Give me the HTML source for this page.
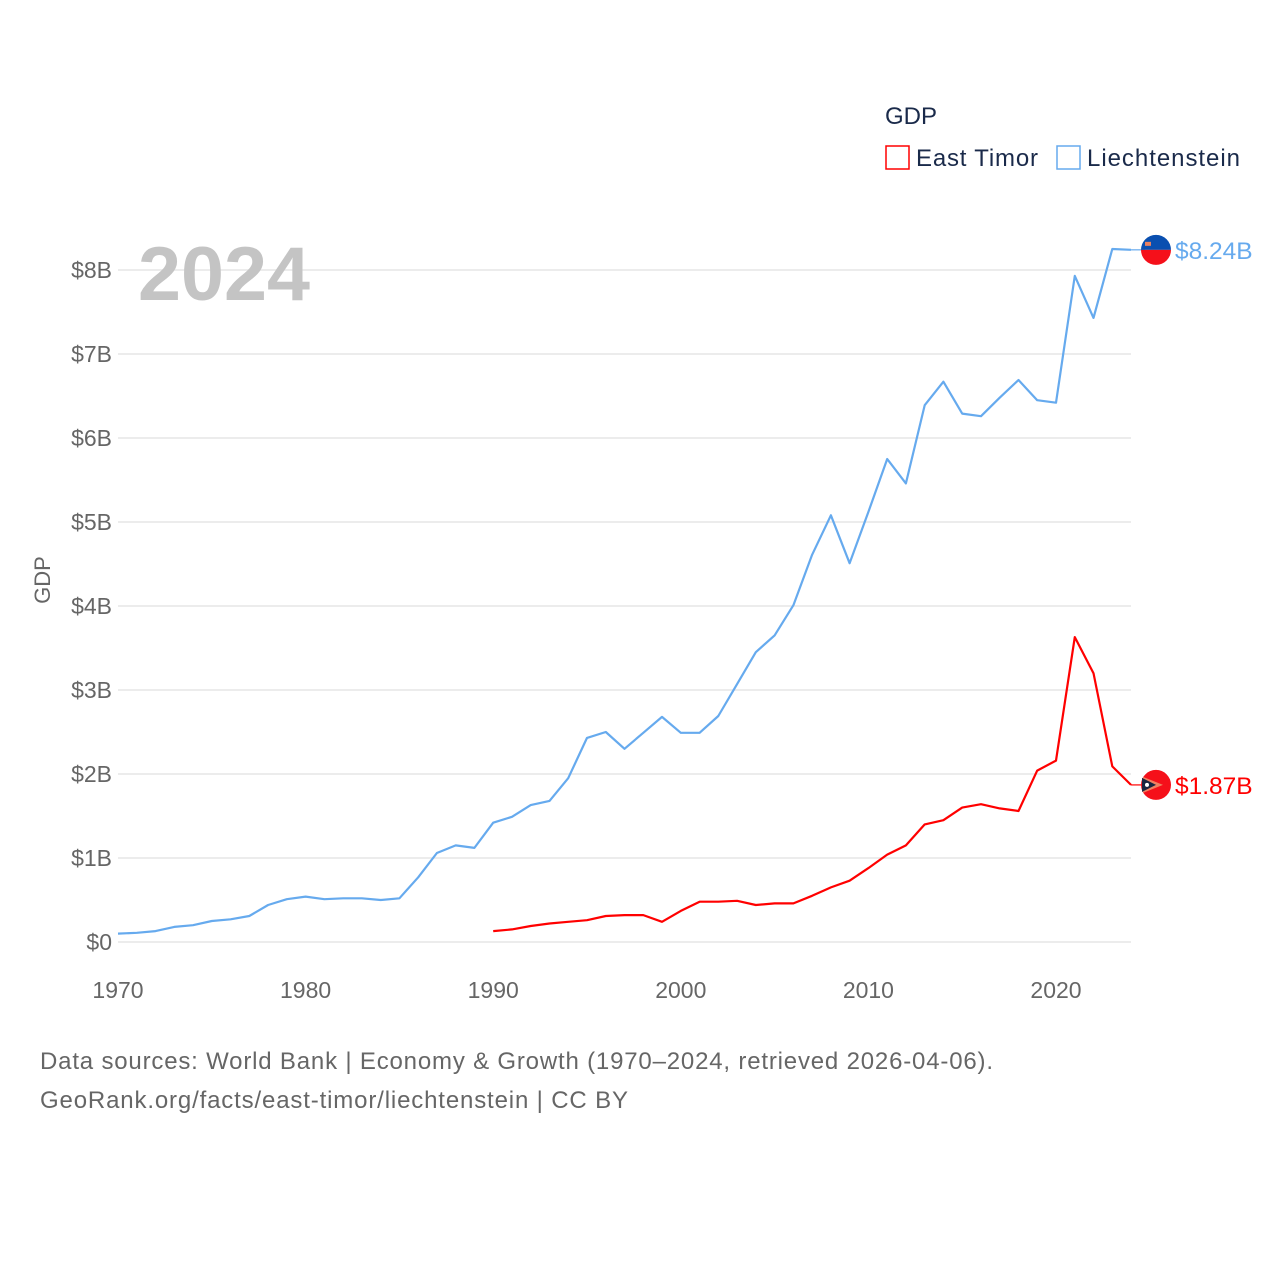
<!DOCTYPE html>
<html><head><meta charset="utf-8"><style>
body{margin:0;background:#fff;}
svg text{font-family:"Liberation Sans",sans-serif;}
</style></head><body>
<svg id="chart" width="1280" height="1280" xmlns="http://www.w3.org/2000/svg">
<rect width="1280" height="1280" fill="#fff"/>
<g id="grid"></g>
<text x="138" y="300" font-size="76" font-weight="bold" fill="#c4c4c4" textLength="172" lengthAdjust="spacingAndGlyphs">2024</text>
<g id="yticks"></g><g id="xticks"></g>
<text transform="translate(50,580) rotate(-90)" text-anchor="middle" font-size="22" fill="#666">GDP</text>
<g id="series"></g>
<g>
<text x="885" y="124" font-size="24" fill="#1a2a4a">GDP</text>
<g><rect x="886" y="146" width="23" height="23" fill="none" stroke="#ff0000" stroke-width="1.5"/><text x="916" y="166" font-size="24" fill="#1a2a4a" textLength="122">East Timor</text></g>
<g><rect x="1057" y="146" width="23" height="23" fill="none" stroke="#66aaee" stroke-width="1.5"/><text x="1087" y="166" font-size="24" fill="#1a2a4a" textLength="153">Liechtenstein</text></g>
</g>
<text x="40" y="1069" font-size="24" fill="#666" textLength="953">Data sources: World Bank | Economy &amp; Growth (1970–2024, retrieved 2026-04-06).</text>
<text x="40" y="1108" font-size="24" fill="#666" textLength="588">GeoRank.org/facts/east-timor/liechtenstein | CC BY</text>
</svg>
<script>
const yTickValues=[0,1,2,3,4,5,6,7,8];
const yTickLabels=["$0","$1B","$2B","$3B","$4B","$5B","$6B","$7B","$8B"];
const xTickValues=[1970,1980,1990,2000,2010,2020];
const liYears=[1970,1971,1972,1973,1974,1975,1976,1977,1978,1979,1980,1981,1982,1983,1984,1985,1986,1987,1988,1989,1990,1991,1992,1993,1994,1995,1996,1997,1998,1999,2000,2001,2002,2003,2004,2005,2006,2007,2008,2009,2010,2011,2012,2013,2014,2015,2016,2017,2018,2019,2020,2021,2022,2023,2024];
const liValues=[0.10,0.11,0.13,0.18,0.20,0.25,0.27,0.31,0.44,0.51,0.54,0.51,0.52,0.52,0.50,0.52,0.77,1.06,1.15,1.12,1.42,1.49,1.63,1.68,1.95,2.43,2.50,2.30,2.49,2.68,2.49,2.49,2.69,3.07,3.45,3.65,4.01,4.61,5.08,4.51,5.12,5.75,5.46,6.39,6.67,6.29,6.26,6.48,6.69,6.45,6.42,7.93,7.43,8.25,8.24];
const etYears=[1990,1991,1992,1993,1994,1995,1996,1997,1998,1999,2000,2001,2002,2003,2004,2005,2006,2007,2008,2009,2010,2011,2012,2013,2014,2015,2016,2017,2018,2019,2020,2021,2022,2023,2024];
const etValues=[0.13,0.15,0.19,0.22,0.24,0.26,0.31,0.32,0.32,0.24,0.37,0.48,0.48,0.49,0.44,0.46,0.46,0.55,0.65,0.73,0.88,1.04,1.15,1.40,1.45,1.60,1.64,1.59,1.56,2.04,2.16,3.63,3.20,2.09,1.87];
const etLabel="$1.87B", liLabel="$8.24B";
const X=y=>118+(y-1970)*18.76;
const Y=v=>942-v*84;
const NS="http://www.w3.org/2000/svg";
function mk(tag,attrs,parent){const e=document.createElementNS(NS,tag);for(const k in attrs)e.setAttribute(k,attrs[k]);parent.appendChild(e);return e;}
const grid=document.getElementById('grid'),yt=document.getElementById('yticks'),xt=document.getElementById('xticks'),ser=document.getElementById('series');
yTickValues.forEach((v,i)=>{
 const l=mk('line',{x1:118,x2:1131,y1:Y(v),y2:Y(v),stroke:'#e6e6e6','stroke-width':1.5},grid);
 
 
 const t=mk('text',{x:112,y:Y(v)+8,'text-anchor':'end','font-size':23,fill:'#666'},yt);
 t.textContent=yTickLabels[i];
 
 
});
xTickValues.forEach(v=>{
 const t=mk('text',{x:X(v),y:998,'text-anchor':'middle','font-size':23,fill:'#666'},xt);
 t.textContent=v;
 
 
});
function line(years,vals,color,name,label,flag){
 const d=years.map((y,i)=>(i?'L':'M')+X(y).toFixed(1)+','+Y(vals[i]).toFixed(1)).join('');
 const p=mk('path',{d:d,fill:'none',stroke:color,'stroke-width':2.2,'stroke-linejoin':'round'},ser);
 
 
 const lx=X(years[years.length-1]),ly=Y(vals[vals.length-1]);
 mk('line',{x1:lx,x2:1145,y1:ly,y2:ly,stroke:color,'stroke-width':1.2},ser);
 const g=mk('g',{},ser);
 
 
 if(flag==='li'){
  mk('path',{d:`M1141,${ly} a15,15 0 0 1 30,0 Z`,fill:'#0a4fb0'},g);
  mk('path',{d:`M1141,${ly} a15,15 0 0 0 30,0 Z`,fill:'#f5101a'},g);
  mk('rect',{x:1145,y:ly-8,width:6,height:4,fill:'#e98060'},g);
 }else{
  mk('circle',{cx:1156,cy:ly,r:15,fill:'#f5101a'},g);
  mk('path',{d:`M1143,${ly-8} L1163,${ly} L1143,${ly+8} Z`,fill:'#f08060'},g);
  mk('path',{d:`M1142,${ly-7} L1156,${ly} L1142,${ly+7} Z`,fill:'#1a2540'},g);
  mk('circle',{cx:1147,cy:ly,r:2,fill:'#fff'},g);
 }
 const t=mk('text',{x:1175,y:ly+9,'font-size':24.5,fill:color},ser);
 t.textContent=label;
 
 
}
line(liYears,liValues,'#66aaee','liechtenstein',liLabel,'li');
line(etYears,etValues,'#ff0000','east-timor',etLabel,'et');
</script>
</body></html>
